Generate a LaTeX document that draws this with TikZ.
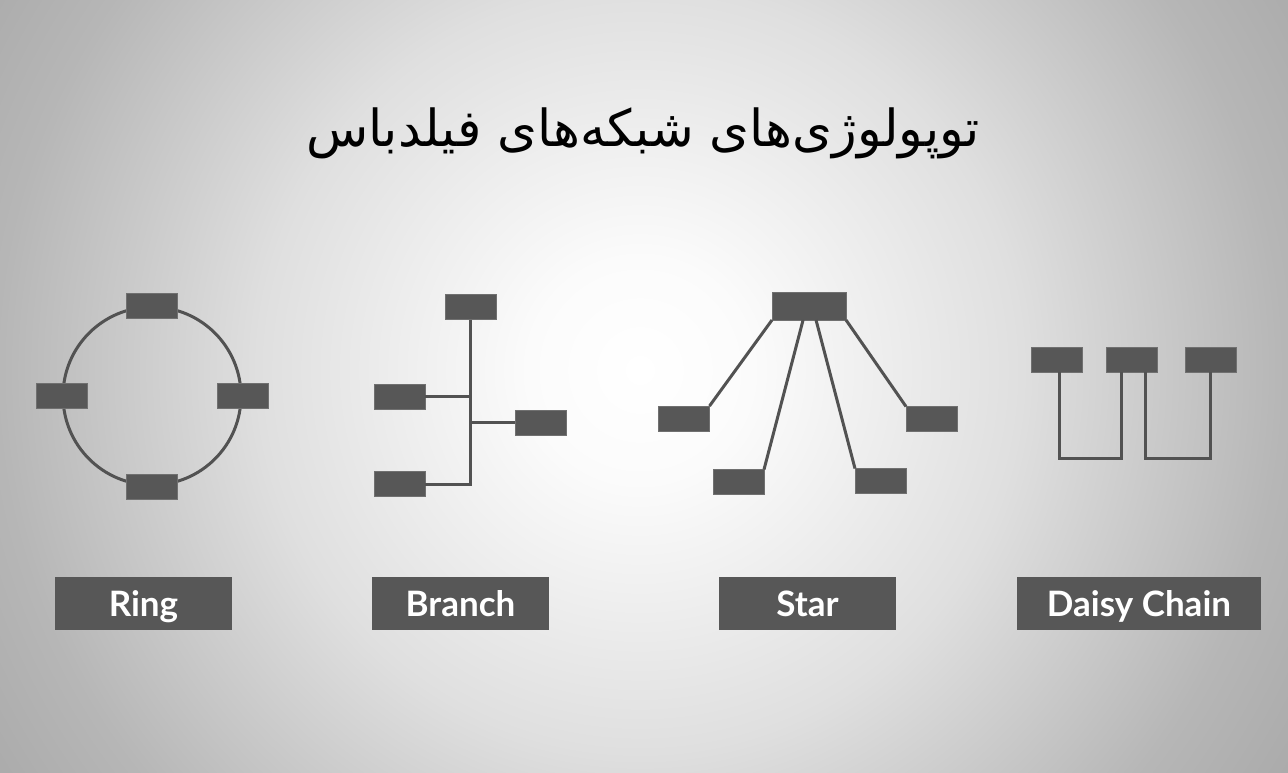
\documentclass[tikz,border=0pt]{standalone}
\usepackage{fontspec}
\setmainfont{Lato}
\newfontfamily\farsi[Script=Arabic]{DejaVu Sans}
\TeXXeTstate=1
\usetikzlibrary{calc}
\definecolor{boxc}{HTML}{575757}
\definecolor{boxedge}{HTML}{707070}
\definecolor{linec}{HTML}{525252}
\definecolor{bgA}{gray}{0.985}
\definecolor{bgB}{gray}{0.875}
\definecolor{bgC}{gray}{0.715}
\definecolor{bgD}{gray}{0.67}
\definecolor{bgE}{gray}{0.66}
\pgfdeclareradialshading{bgshade}{\pgfpoint{0bp}{0bp}}{color(0bp)=(white); color(110bp)=(bgA); color(380bp)=(bgB); color(640bp)=(bgC); color(760bp)=(bgD); color(800bp)=(bgE)}
\begin{document}
\begin{tikzpicture}[x=1pt,y=-1pt,
  dev/.style={fill=boxc,draw=boxedge,line width=0.8pt,minimum width=51pt,minimum height=25pt,inner sep=0pt,outer sep=0pt},
  wire/.style={draw=linec,line width=3pt},
  lbl/.style={fill=boxc,text=white,font=\fontsize{35}{40}\selectfont\bfseries,minimum height=53pt,inner sep=0pt,text height=25pt,text depth=0pt}]
\useasboundingbox (0,0) rectangle (1288,772);
\begin{scope}
\clip (0,0) rectangle (1288,772);
\node[inner sep=0pt,outer sep=0pt] (bg) at (640,370) {\pgfuseshading{bgshade}};
\end{scope}

% title
\node (title) at (643,133) {\farsi\fontsize{51}{60}\selectfont\beginR توپولوژی‌های شبکه‌های فیلدباس\endR};

% Ring
\node[circle,draw=linec,line width=3pt,minimum size=178pt,inner sep=0pt] (ring) at (152,396) {};
\node[dev] (rt) at (ring.north) {};
\node[dev] (rl) at (ring.west) {};
\node[dev] (rr) at (ring.east) {};
\node[dev] (rb) at (ring.south) {};

% Branch
\node[dev] (btop) at (470.5,307) {};
\node[dev] (bl1) at (399.5,396.5) {};
\node[dev] (br) at (540.5,422.5) {};
\node[dev] (bl2) at (399.5,484) {};
\draw[wire] (btop.south) -- (btop.south |- bl2.east) -- (bl2.east);
\draw[wire] (bl1.east) -- (bl1.east -| btop.south);
\draw[wire] (br.west) -- (br.west -| btop.south);

% Star
\node[dev,minimum width=74pt,minimum height=28pt] (hub) at (809,306) {};
\node[dev] (sl) at (684,418.5) {};
\node[dev] (sbl) at (738.5,482) {};
\node[dev] (sbr) at (880.5,481) {};
\node[dev] (sr) at (931.5,419) {};
\coordinate (h2) at ($(hub.south west)!0.42!(hub.south east)$);
\coordinate (h3) at ($(hub.south west)!0.595!(hub.south east)$);
\draw[wire] (hub.south west) -- (sl.north east);
\draw[wire] (h2) -- (sbl.north east);
\draw[wire] (h3) -- (sbr.north west);
\draw[wire] (hub.south east) -- (sr.north west);

% Daisy chain
\node[dev] (d1) at (1056.5,359.5) {};
\node[dev] (d2) at (1131.5,359.5) {};
\node[dev] (d3) at (1210.5,359.5) {};
\coordinate (low) at (1000,458);
\coordinate (d1a) at ($(d1.south)+(2.5,0)$);
\coordinate (d2a) at ($(d2.south)+(-10,0)$);
\coordinate (d2b) at ($(d2.south)+(14,0)$);
\draw[wire] (d1a) -- (d1a |- low) -- (d2a |- low) -- (d2a);
\draw[wire] (d2b) -- (d2b |- low) -- (d3.south |- low) -- (d3.south);

% labels
\node[lbl,minimum width=177pt] (lring) at (143.5,603.5) {Ring};
\node[lbl,minimum width=177pt] (lbranch) at (460.5,603.5) {Branch};
\node[lbl,minimum width=177pt] (lstar) at (807.5,603.5) {Star};
\node[lbl,minimum width=244pt] (ldaisy) at (1139,603.5) {Daisy Chain};
\end{tikzpicture}
\end{document}
